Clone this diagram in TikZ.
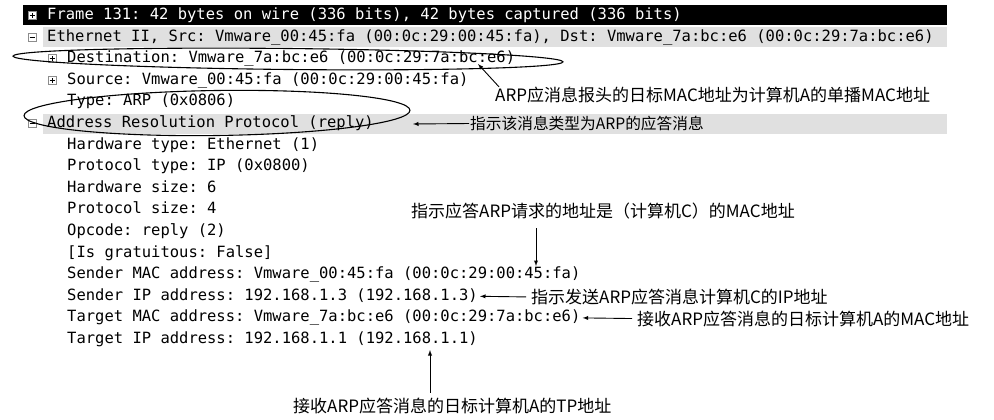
\documentclass[tikz,border=0pt]{standalone}
\usepackage{fontspec}
\setmonofont{DejaVu Sans Mono}
\newfontfamily\cjk{Noto Sans CJK SC}
\usetikzlibrary{calc}
\newcommand{\ROWH}{21.6}
\definecolor{rowgray}{rgb}{0.88,0.88,0.88}
\definecolor{icongray}{rgb}{0.55,0.55,0.55}

\tikzset{
  row/.style={anchor=west, inner sep=0pt, text height=11.5pt, text depth=3.5pt,
    font=\fontsize{15.5}{16}\selectfont\ttfamily},
  note/.style={anchor=west, inner sep=0pt, font=\fontsize{17}{18}\selectfont\cjk},
  ring/.style={draw, line width=1.1pt},
  pointer/.style={draw, line width=0.9pt, -latex}
}

% small tree icons in front of a row
\newcommand{\treebox}[2]{%
  \coordinate (ic) at ([xshift=-15pt]#1.west);
  \draw[icongray, fill=#2] ([shift={(-4,-4)}]ic) rectangle ([shift={(4,4)}]ic);
  \draw[line width=0.9pt] ([xshift=-2.5pt]ic) -- ([xshift=2.5pt]ic);
}
\newcommand{\plusicon}[2]{%
  \treebox{#1}{#2}
  \draw[line width=0.9pt] ([yshift=-2.5pt]ic) -- ([yshift=2.5pt]ic);
}

\begin{document}
\begin{tikzpicture}[x=1pt,y=-1pt]
    \useasboundingbox (0,0) rectangle (994,420);

    % selected and header bars
    \fill[black] (23,5.5) rectangle (947,25.5);
    \fill[rowgray] (43,27) rectangle (947,47);
    \fill[rowgray] (43,113.5) rectangle (947,133.5);

    \foreach \name/\ind/\txt [count=\i from 0] in {%
      frame/47/{\color{white}Frame 131: 42 bytes on wire (336 bits), 42 bytes captured (336 bits)},
      eth/47/{Ethernet II, Src: Vmware\_00:45:fa (00:0c:29:00:45:fa), Dst: Vmware\_7a:bc:e6 (00:0c:29:7a:bc:e6)},
      dst/67/{Destination: Vmware\_7a:bc:e6 (00:0c:29:7a:bc:e6)},
      src/67/{Source: Vmware\_00:45:fa (00:0c:29:00:45:fa)},
      type/67/{Type: ARP (0x0806)},
      arp/47/{Address Resolution Protocol (reply)},
      hwtype/67/{Hardware type: Ethernet (1)},
      ptype/67/{Protocol type: IP (0x0800)},
      hwsize/67/{Hardware size: 6},
      psize/67/{Protocol size: 4},
      opcode/67/{Opcode: reply (2)},
      grat/67/{[Is gratuitous: False]},
      smac/67/{Sender MAC address: Vmware\_00:45:fa (00:0c:29:00:45:fa)},
      sip/67/{Sender IP address: 192.168.1.3 (192.168.1.3)},
      tmac/67/{Target MAC address: Vmware\_7a:bc:e6 (00:0c:29:7a:bc:e6)},
      tip/67/{Target IP address: 192.168.1.1 (192.168.1.1)}}{%
      \node[row] (\name) at (\ind, {15.5+\ROWH*\i}) {\txt};
    }

    \plusicon{frame}{white}
    \treebox{eth}{white}
    \plusicon{dst}{white}
    \plusicon{src}{white}
    \treebox{arp}{white}

    % rings round the fields
    \draw[ring, rotate around={-0.6:(288,59)}] (288,59) ellipse [x radius=275, y radius=10.5];
    \draw[ring, rotate around={0.8:(217,113)}] (217,113) ellipse [x radius=193, y radius=22.5];

    % notes
    \node[note] (note1) at (495,95) {ARP应消息报头的日标MAC地址为计算机A的单播MAC地址};
    \node[note, font=\fontsize{15.7}{17}\selectfont\cjk] (note2) at (470,123.5) {指示该消息类型为ARP的应答消息};
    \node[note] (note3) at (411,211) {指示应答ARP请求的地址是（计算机C）的MAC地址};
    \node[note] (note4) at (531,297) {指示发送ARP应答消息计算机C的IP地址};
    \node[note] (note5) at (637,318.6) {接收ARP应答消息的日标计算机A的MAC地址};
    \node[note] (note6) at (293,406) {接收ARP应答消息的日标计算机A的TP地址};

    \coordinate (dstmark) at (478,64);
    \coordinate (arpmark) at (413,124);
    \coordinate (smacmark) at (536,266);
    \coordinate (sipmark) at ([xshift=2pt]sip.east);
    \coordinate (tmacmark) at ([xshift=2pt]tmac.east);
    \coordinate (tipmark) at (430,350);

    \draw[pointer] ([xshift=4pt]note1.north west) -- (dstmark);
    \draw[pointer, shorten <=1pt] (note2.west) -- (arpmark);
    \draw[pointer, shorten <=9pt] (note3.south -| smacmark) -- (smacmark);
    \draw[pointer, shorten <=5pt] (note4.west) -- (sipmark);
    \draw[pointer, shorten <=5pt] (note5.west) -- (tmacmark);
    \draw[pointer, shorten <=5pt] (note6.north -| tipmark) -- (tipmark);

    \end{tikzpicture}
\end{document}
